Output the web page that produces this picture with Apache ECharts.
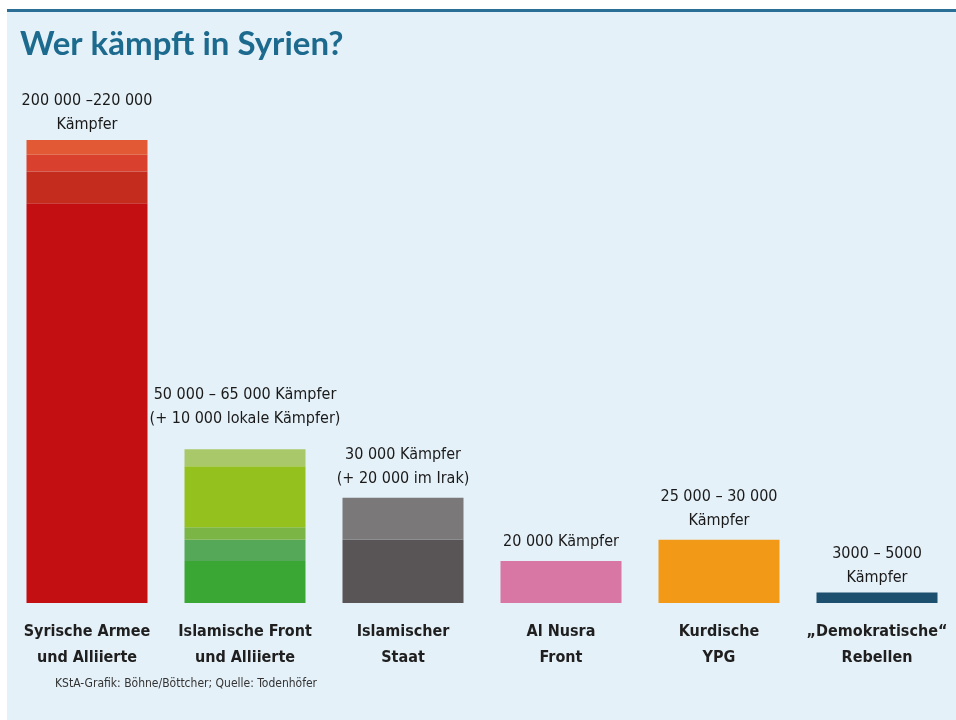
<!DOCTYPE html>
<html>
<head>
<meta charset="utf-8">
<script src="https://cdn.jsdelivr.net/npm/echarts@6/dist/echarts.min.js"></script>
<style>
html,body{margin:0;padding:0;background:#ffffff;}
#chart{width:956px;height:720px;}
</style>
</head>
<body>
<div id="chart"></div>
<script>
// ---- data ----
const categories = [
  "Syrische Armee\nund Alliierte",
  "Islamische Front\nund Alliierte",
  "Islamischer\nStaat",
  "Al Nusra\nFront",
  "Kurdische\nYPG",
  "„Demokratische“\nRebellen"
];
// stacked bands per category, bottom to top
const bandsSyrien = [190000, 15000, 8000, 7000];
const bandsFront  = [20000, 10000, 6000, 29000, 8000];
const bandsIS     = [30000, 20000];
const bandsNusra  = [20000];
const bandsYPG    = [30000];
const bandsRebels = [5000];
const valueLabels = [
  "200 000 –220 000\nKämpfer",
  "50 000 – 65 000 Kämpfer\n(+ 10 000 lokale Kämpfer)",
  "30 000 Kämpfer\n(+ 20 000 im Irak)",
  "20 000 Kämpfer",
  "25 000 – 30 000\nKämpfer",
  "3000 – 5000\nKämpfer"
];
const title = "Wer kämpft in Syrien?";
const source = "KStA-Grafik: Böhne/Böttcher; Quelle: Todenhöfer";

// ---- styles ----
const bandColors = [
  ["#c40f12", "#c42d1e", "#d9412e", "#e25a35"],
  ["#3aa735", "#55a858", "#7bb545", "#95c11f", "#a9c86a"],
  ["#595556", "#7a7878"],
  ["#d977a4"],
  ["#f29a17"],
  ["#1d4f6e"]
];
const labelGap = [3, 19, 7, 7, 7, 3];

const allBands = [bandsSyrien, bandsFront, bandsIS, bandsNusra, bandsYPG, bandsRebels];
const maxLevels = Math.max(...allBands.map(b => b.length));
const totals = allBands.map(b => b.reduce((s, v) => s + v, 0));

const condensed = '"Liberation Sans Narrow", "DejaVu Sans Condensed", "Liberation Sans", sans-serif';

const series = [];
for (let lvl = 0; lvl < maxLevels; lvl++) {
  series.push({
    type: 'bar',
    stack: 'fighters',
    barWidth: 121,
    silent: true,
    data: allBands.map((b, ci) => lvl < b.length
      ? { value: b[lvl], itemStyle: { color: bandColors[ci][lvl] } }
      : '-')
  });
}
series.push({
  type: 'bar',
  barWidth: 121,
  barGap: '-100%',
  silent: true,
  z: 1,
  itemStyle: { color: 'rgba(0,0,0,0)' },
  data: totals.map((v, i) => ({ value: v, label: { distance: labelGap[i] } })),
  label: {
    show: true,
    position: 'top',
    formatter: p => valueLabels[p.dataIndex],
    fontFamily: condensed,
    fontSize: 16,
    lineHeight: 24,
    color: '#1a1a1a',
    align: 'center'
  }
});

const chart = echarts.init(document.getElementById('chart'), null, { renderer: 'canvas' });
chart.setOption({
  animation: false,
  backgroundColor: '#ffffff',
  graphic: [
    { type: 'rect', z: -10, shape: { x: 7, y: 10, width: 960, height: 720 }, style: { fill: '#e5f1f8' } },
    { type: 'rect', z: -9, shape: { x: 7, y: 9, width: 960, height: 3 }, style: { fill: '#2b6e96' } },
    { type: 'text', left: 20, top: 28, style: { text: title, font: 'bold 33px Lato, "Liberation Sans", sans-serif', fill: '#1d6a8f' } },
    { type: 'text', left: 55, top: 678, style: { text: source, fontFamily: condensed, fontSize: 12, fill: '#333333' } }
  ],
  grid: { left: 8, width: 952, top: 140, bottom: 117 },
  xAxis: {
    type: 'category',
    data: categories,
    axisLine: { show: false },
    axisTick: { show: false },
    axisLabel: {
      margin: 16,
      fontFamily: condensed,
      fontWeight: 'bold',
      fontSize: 16,
      lineHeight: 26,
      color: '#1f1f1f',
      interval: 0
    }
  },
  yAxis: { type: 'value', min: 0, max: 220000, show: false },
  series: series
});
</script>
</body>
</html>
